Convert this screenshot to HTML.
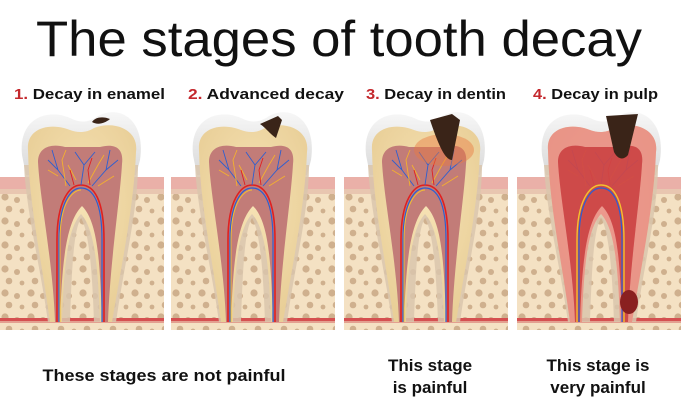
<!DOCTYPE html>
<html><head><style>
body{margin:0;width:681px;height:411px;background:#fff;overflow:hidden;font-family:"Liberation Sans",sans-serif}
svg{position:absolute;left:0;top:0}
</style></head><body>
<svg width="681" height="411" viewBox="0 0 681 411">
<defs>
<pattern id="bone" width="26" height="24" patternUnits="userSpaceOnUse">
<rect width="26" height="24" fill="#f4e1c3"/>
<circle cx="5" cy="5" r="3.6" fill="#cfb08e"/><circle cx="17" cy="8" r="3" fill="#cfb08e"/>
<circle cx="9" cy="17" r="3.3" fill="#cfb08e"/><circle cx="22" cy="19" r="2.4" fill="#cfb08e"/>
</pattern>
<linearGradient id="en" x1="0" y1="0" x2="0" y2="1"><stop offset="0" stop-color="#f7f7f7"/><stop offset="1" stop-color="#d9d9d9"/></linearGradient>
<radialGradient id="dent" cx="0.5" cy="0.4" r="0.6"><stop offset="0" stop-color="#f6e2b4"/><stop offset="1" stop-color="#e9cf98"/></radialGradient>
<g id="panel">
<rect x="0" y="177" width="164" height="15" fill="#eab0a8"/>
<rect x="0" y="189" width="164" height="5" fill="#e8c6b0"/>
<rect x="0" y="194" width="164" height="136" fill="url(#bone)"/>
<rect x="0" y="318" width="164" height="3" fill="#d55050"/>
<rect x="0" y="321" width="164" height="2" fill="#e3a090"/>
</g>
<g id="tooth">
<path d="M22,155 C18,118 48,108 70,118 C80,123 88,123 98,116 C120,104 146,120 140,160 L136,175 L26,175 Z" fill="url(#en)"/>
<path d="M24,165 C26,210 40,265 48,322 L70,322 C72,262 74,230 81,218 C88,230 92,262 94,322 L116,322 C124,265 138,210 138,165 Z" fill="#d9c6ad" opacity="0.85"/>
<path d="M28,150 C26,128 50,122 70,130 C78,133 86,133 94,128 C115,120 139,130 136,152 C134,205 122,262 112,322 L100,322 C98,262 94,228 81,214 C68,228 64,262 62,322 L50,322 C42,262 29,205 28,150 Z" fill="url(#dent)"/>
<path d="M38,162 C38,148 50,143 65,147 L100,147 C115,143 124,148 122,164 C120,200 110,262 108,322 L102,322 C100,262 98,222 82,206 C66,222 62,262 60,322 L55,322 C53,262 40,200 38,162 Z" fill="#c27c78"/>
<path d="M57,322 L57,240 C57,200 70,185 81,185 C94,185 104,200 104,240 L104,322" fill="none" stroke="#e02020" stroke-width="1.6"/>
<path d="M59,322 L59,240 C59,202 71,188 81,188 C93,188 102,202 102,240 L102,322" fill="none" stroke="#2e5fd0" stroke-width="1.2"/>
<path d="M60,322 L60,240 C60,204 72,190 81,190" fill="none" stroke="#f3c130" stroke-width="0.9"/>
<g fill="none" stroke-width="0.9">
<path d="M70,186 L58,170 L48,160 M58,170 L52,150 M81,185 L84,165 L75,152 M84,165 L95,152 M92,186 L106,170 L118,160 M106,170 L110,150" stroke="#2e5fd0"/>
<path d="M66,186 L62,160 L66,150 M76,180 L68,165 M88,183 L98,165 L104,155 M98,186 L114,176 M48,170 L58,176" stroke="#f3b030"/>
<path d="M74,185 L70,170 M90,185 L88,170 L92,158" stroke="#e02020"/>
</g>
</g>
</defs>
<text x="36" y="56" textLength="606" lengthAdjust="spacingAndGlyphs" font-size="50" fill="#111" font-family="Liberation Sans,sans-serif">The stages of tooth decay</text>
<g font-size="15" font-weight="bold" fill="#111">
<text x="14" y="99" textLength="151" lengthAdjust="spacingAndGlyphs"><tspan fill="#c4282d">1.</tspan> Decay in enamel</text>
<text x="188" y="99" textLength="156" lengthAdjust="spacingAndGlyphs"><tspan fill="#c4282d">2.</tspan> Advanced decay</text>
<text x="366" y="99" textLength="140" lengthAdjust="spacingAndGlyphs"><tspan fill="#c4282d">3.</tspan> Decay in dentin</text>
<text x="533" y="99" textLength="125" lengthAdjust="spacingAndGlyphs"><tspan fill="#c4282d">4.</tspan> Decay in pulp</text>
</g>
<use href="#panel" x="0"/><use href="#panel" x="171"/><use href="#panel" x="344"/><use href="#panel" x="517"/>
<use href="#tooth" x="0"/><use href="#tooth" x="171"/><use href="#tooth" x="344"/><use href="#tooth" x="520"/>
<path d="M92,122 C95,117 103,116 110,119 C104,124 97,125 92,122 Z" fill="#3a2418"/>
<path d="M260,124 L278,116 L282,120 L276,138 C270,134 266,128 260,124 Z" fill="#3a2418"/>
<ellipse cx="444" cy="150" rx="30" ry="16" fill="#e87a40" opacity="0.45"/>
<path d="M430,120 L452,114 L460,120 L452,160 C446,160 440,150 430,120 Z" fill="#3a2418"/>
<g>
<path d="M548,150 C546,128 570,122 590,130 C598,133 606,133 614,128 C635,120 659,130 656,152 C654,205 642,262 632,322 L620,322 C618,262 614,228 601,214 C588,228 584,262 582,322 L570,322 C562,262 549,205 548,150 Z" fill="#e88080" opacity="0.75"/>
<path d="M558,162 C558,148 570,143 585,147 L620,147 C635,143 644,148 642,164 C640,200 630,262 628,322 L622,322 C620,262 618,222 602,206 C586,222 582,262 580,322 L575,322 C573,262 560,200 558,162 Z" fill="#c83838" opacity="0.75"/>
<path d="M577,322 L577,240 C577,200 590,185 601,185 C614,185 624,200 624,240 L624,322" fill="none" stroke="#f3c130" stroke-width="1.4"/>
<path d="M579,322 L579,240 C579,202 591,188 601,188 C613,188 622,202 622,240 L622,322" fill="none" stroke="#2e5fd0" stroke-width="1.2"/>
<path d="M606,116 L638,114 L628,155 C624,160 618,160 614,152 Z" fill="#3a2418"/>
<ellipse cx="629" cy="302" rx="9" ry="12" fill="#8a2020"/>
</g>
<g font-size="17" font-weight="bold" fill="#111" text-anchor="middle">
<text x="164" y="381" textLength="243" lengthAdjust="spacingAndGlyphs">These stages are not painful</text>
<text x="430" y="371">This stage</text><text x="430" y="393">is painful</text>
<text x="598" y="371">This stage is</text><text x="598" y="393">very painful</text>
</g>
</svg>
</body></html>
